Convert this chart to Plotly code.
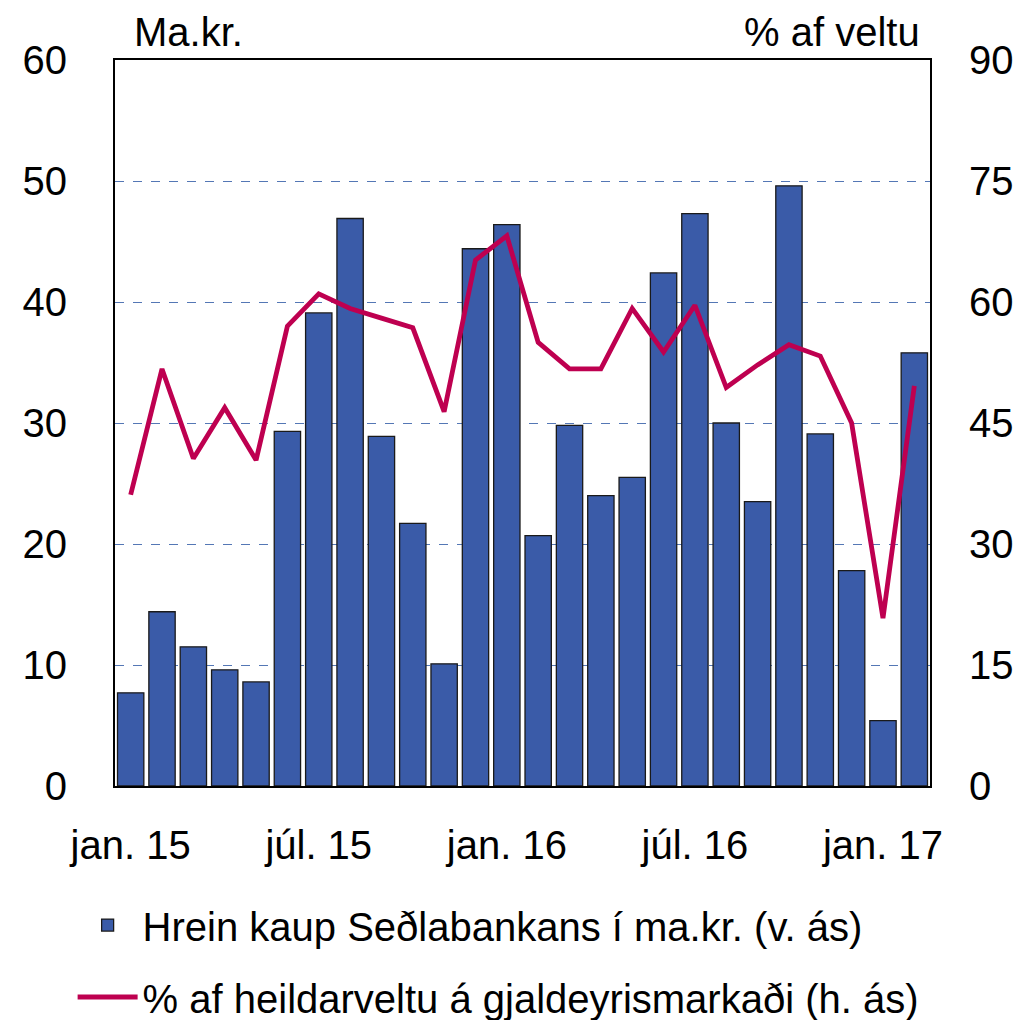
import plotly.graph_objects as go

months = ["jan. 15", "feb. 15", "mar. 15", "apr. 15", "maí 15", "jún. 15",
          "júl. 15", "ágú. 15", "sep. 15", "okt. 15", "nóv. 15", "des. 15",
          "jan. 16", "feb. 16", "mar. 16", "apr. 16", "maí 16", "jún. 16",
          "júl. 16", "ágú. 16", "sep. 16", "okt. 16", "nóv. 16", "des. 16",
          "jan. 17", "feb. 17"]
kaup = [7.7, 14.4, 11.5, 9.6, 8.6, 29.3, 39.1, 46.9, 28.9, 21.7, 10.1, 44.4,
        46.4, 20.7, 29.8, 24.0, 25.5, 42.4, 47.3, 30.0, 23.5, 49.6, 29.1, 17.8,
        5.4, 35.8]
hlutfall = [36.1, 51.7, 40.6, 46.9, 40.4, 57.0, 61.0, 59.2, 58.0, 56.8, 46.4, 65.2,
            68.2, 55.0, 51.7, 51.7, 59.2, 53.8, 59.6, 49.4, 52.2, 54.7, 53.3, 45.0,
            20.8, 49.6]
tick_idx = [0, 6, 12, 18, 24]
tick_text = [months[i] for i in tick_idx]
left_ticks = [0, 10, 20, 30, 40, 50, 60]
right_ticks = [0, 15, 30, 45, 60, 75, 90]

FONT = "Liberation Sans, Arial, sans-serif"
FS = 40
x = list(range(len(months)))

fig = go.Figure()
fig.add_trace(go.Bar(
    x=x, y=kaup, name="Hrein kaup Seðlabankans í ma.kr. (v. ás)",
    marker=dict(color="#3A5BA8", line=dict(color="#1a1a1a", width=1.3)),
    yaxis="y", legend="legend", showlegend=True))
fig.add_trace(go.Scatter(
    x=x, y=hlutfall, name="% af heildarveltu á gjaldeyrismarkaði (h. ás)",
    mode="lines", line=dict(color="#BE0050", width=4.8),
    yaxis="y2", legend="legend2", showlegend=True))

fig.update_layout(
    width=1018, height=1020,
    margin=dict(l=115, r=88, t=60, b=234, autoexpand=False),
    paper_bgcolor="white", plot_bgcolor="white",
    font=dict(family=FONT, size=FS, color="black"),
    bargap=0.16,
    showlegend=True,
    xaxis=dict(range=[-0.5, len(months) - 0.5], tickmode="array",
               tickvals=tick_idx, ticktext=tick_text, showgrid=False,
               showline=True, linecolor="black", linewidth=2, mirror=True,
               ticks="", ticklabelstandoff=23, zeroline=False, automargin=False),
    yaxis=dict(range=[0, 60], tickmode="array", tickvals=left_ticks,
               showgrid=True, gridcolor="#5477B5", griddash="dash", gridwidth=1,
               showline=True, linecolor="black", linewidth=2, mirror=True,
               ticks="", ticklabelstandoff=38, zeroline=False, automargin=False),
    yaxis2=dict(range=[0, 90], tickmode="array", tickvals=right_ticks,
                overlaying="y", side="right", showgrid=False,
                showline=False, ticks="", ticklabelstandoff=38, zeroline=False,
                automargin=False),
    legend=dict(x=-0.052, xref="paper", y=-0.1915, yref="paper", xanchor="left",
                yanchor="middle", font=dict(size=FS), itemwidth=60,
                bgcolor="rgba(0,0,0,0)"),
    legend2=dict(x=-0.052, xref="paper", y=-0.2906, yref="paper", xanchor="left",
                 yanchor="middle", font=dict(size=FS), itemwidth=60,
                 bgcolor="rgba(0,0,0,0)"),
    annotations=[
        dict(text="Ma.kr.", xref="paper", yref="paper", x=0.021, y=1.0,
             xanchor="left", yanchor="bottom", yshift=4, showarrow=False,
             font=dict(size=FS)),
        dict(text="% af veltu", xref="paper", yref="paper", x=0.99, y=1.0,
             xanchor="right", yanchor="bottom", yshift=4, showarrow=False,
             font=dict(size=FS)),
    ],
)

fig.write_html("out.html", config={"displayModeBar": False},
               post_script="document.body.style.margin='0px';document.body.style.overflow='hidden';")
